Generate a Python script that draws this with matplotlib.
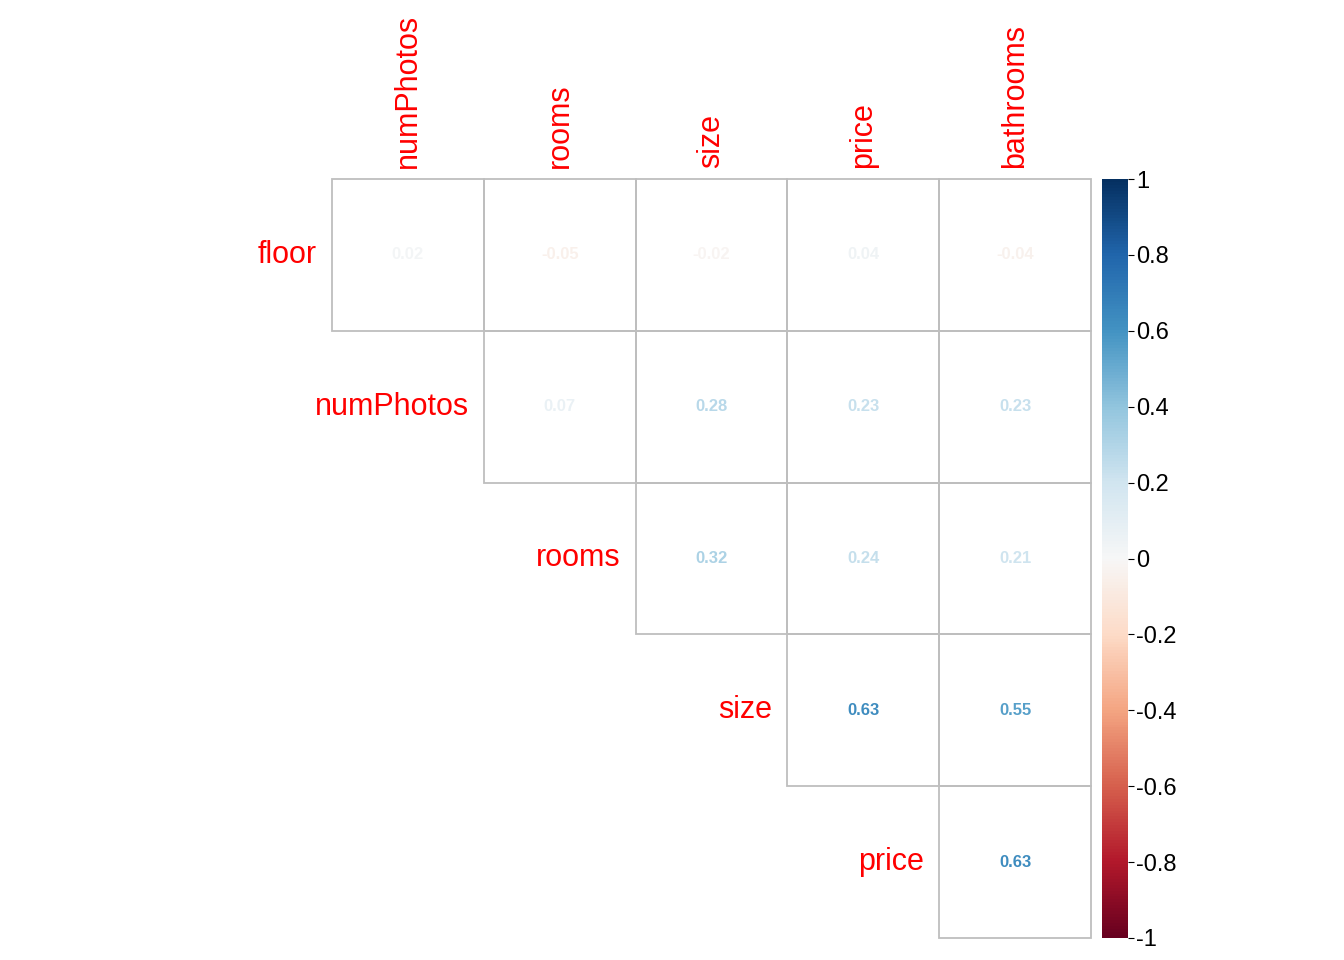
import matplotlib.pyplot as plt
import matplotlib as mpl
import numpy as np

plt.rcParams['font.family'] = ['Liberation Sans', 'DejaVu Sans']

row_labels = ['floor', 'numPhotos', 'rooms', 'size', 'price']
col_labels = ['numPhotos', 'rooms', 'size', 'price', 'bathrooms']
# upper triangle values, row i holds columns i..4
values = [
    [0.02, -0.05, -0.02, 0.04, -0.04],
    [0.07, 0.28, 0.23, 0.23],
    [0.32, 0.24, 0.21],
    [0.63, 0.55],
    [0.63],
]

W, H = 1344, 960
fig = plt.figure(figsize=(W / 100, H / 100), dpi=100)
x0, x1, y0, y1 = 332, 1091, 179, 938
ax = fig.add_axes([x0 / W, 1 - y1 / H, (x1 - x0) / W, (y1 - y0) / H])
ax.set_xlim(0, 5)
ax.set_ylim(5, 0)
ax.axis('off')

cmap = plt.get_cmap('RdBu')
norm = mpl.colors.Normalize(-1, 1)
grid = '#bebebe'
for i, row in enumerate(values):
    for k, v in enumerate(row):
        j = i + k
        ax.add_patch(plt.Rectangle((j, i), 1, 1, fill=False, ec=grid, lw=1.3, clip_on=False))
        ax.text(j + 0.5, i + 0.5, f'{v:.2f}', ha='center', va='center', fontsize=12,
                fontweight='bold', color=cmap(norm(v)))
    ax.text(i - 0.1, i + 0.5, row_labels[i], ha='right', va='center', fontsize=22, color='red')
for j, lab in enumerate(col_labels):
    ax.text(j + 0.5, -0.07, lab, ha='center', va='bottom', rotation=90, fontsize=22, color='red')

cax = fig.add_axes([1102 / W, 1 - y1 / H, 26 / W, (y1 - y0) / H])
cb = mpl.colorbar.ColorbarBase(cax, cmap=cmap, norm=norm, ticks=np.linspace(-1, 1, 11))
cb.ax.set_yticklabels(['-1', '-0.8', '-0.6', '-0.4', '-0.2', '0', '0.2', '0.4', '0.6', '0.8', '1'])
cb.ax.tick_params(labelsize=17, length=4, pad=2)
cb.outline.set_visible(False)

fig.savefig('out.png', dpi=100)
